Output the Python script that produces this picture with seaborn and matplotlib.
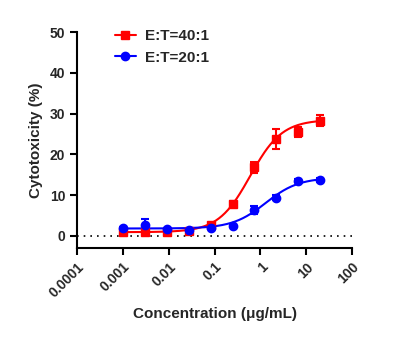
import numpy as np
import pandas as pd
import matplotlib
matplotlib.use("Agg")
import matplotlib.pyplot as plt
import seaborn as sns
from matplotlib.lines import Line2D

conc = [0.001, 0.003, 0.009, 0.027, 0.082, 0.247, 0.74, 2.22, 6.67, 20.0]
red_vals = [0.9, 0.9, 0.9, 1.3, 2.6, 7.9, 16.8, 23.7, 25.5, 28.3]
red_err = [0.3, 0.3, 0.3, 0.4, 0.5, 0.6, 1.3, 2.5, 1.2, 1.4]
blue_vals = [1.8, 2.6, 1.6, 1.4, 2.0, 2.4, 6.3, 9.4, 13.5, 13.7]
blue_err = [0.3, 1.5, 0.3, 0.3, 0.3, 0.3, 1.0, 0.5, 0.4, 0.4]
labels = ["E:T=40:1", "E:T=20:1"]
# 4PL fit parameters (bottom, top, EC50, hill)
red_fit = (0.9, 28.5, 0.6, 1.25)
blue_fit = (1.8, 14.3, 1.3, 1.2)
xticks = [0.0001, 0.001, 0.01, 0.1, 1, 10, 100]
xticklabels = ["0.0001", "0.001", "0.01", "0.1", "1", "10", "100"]
yticks = [0, 10, 20, 30, 40, 50]

sns.set_theme(style="ticks")
plt.rcParams['font.family'] = ['Liberation Sans', 'DejaVu Sans']
plt.rcParams['font.weight'] = 'bold'

fig = plt.figure(figsize=(4.06, 3.45), dpi=100)
ax = fig.add_axes([0.19, 0.281, 0.677, 0.626])

def fourpl(x, p):
    b, t, ec, h = p
    return b + (t - b) / (1 + (ec / x) ** h)

xs = np.logspace(np.log10(conc[0]), np.log10(conc[-1]), 200)
curve = pd.concat([
    pd.DataFrame({"x": xs, "y": fourpl(xs, red_fit), "s": labels[0]}),
    pd.DataFrame({"x": xs, "y": fourpl(xs, blue_fit), "s": labels[1]}),
])
sns.lineplot(data=curve, x="x", y="y", hue="s", palette=["#ff0000", "#0000ff"],
             linewidth=1.5, legend=False, ax=ax)

ax.errorbar(conc, red_vals, yerr=red_err, fmt="s", color="#ff0000", ms=5.5,
            capsize=3, elinewidth=1.5, capthick=1.5, zorder=4)
ax.errorbar(conc, blue_vals, yerr=blue_err, fmt="o", color="#0000ff", ms=6,
            capsize=3, elinewidth=1.5, capthick=1.5, zorder=4)

ax.axhline(0, color="black", linestyle=(0, (1, 3)), linewidth=1.2, zorder=1)

ax.set_xscale("log")
ax.set_xlim(0.0001, 100)
ax.set_ylim(-3, 50)
ax.set_xticks(xticks)
ax.set_xticklabels(xticklabels, rotation=45, ha="right", rotation_mode="anchor",
                   fontsize=10, fontweight="bold")
ax.set_yticks(yticks)
ax.set_yticklabels([str(v) for v in yticks], fontsize=10, fontweight="bold")
ax.spines["top"].set_visible(False)
ax.spines["right"].set_visible(False)
ax.spines["left"].set_bounds(-3, 50)
for s in ["left", "bottom"]:
    ax.spines[s].set_linewidth(1.5)
    ax.spines[s].set_color("black")
ax.tick_params(axis="both", which="major", length=5, width=1.5, color="black")
ax.tick_params(axis="x", which="minor", length=3, width=1.0, color="black")
ax.set_xlabel("Concentration (μg/mL)", fontsize=11, fontweight="bold", labelpad=5)
ax.set_ylabel("Cytotoxicity (%)", fontsize=11, fontweight="bold")
ax.yaxis.set_label_coords(-0.125, 0.5)

handles = [Line2D([], [], color="#ff0000", marker="s", ms=5.5, lw=1.5),
           Line2D([], [], color="#0000ff", marker="o", ms=6, lw=1.5)]
leg = ax.legend(handles, labels, loc="upper left", bbox_to_anchor=(0.087, 1.078),
                frameon=False, prop={"weight": "bold", "size": 11},
                handlelength=1.4, handletextpad=0.6, labelspacing=0.5)

fig.savefig("out.png", dpi=100)
